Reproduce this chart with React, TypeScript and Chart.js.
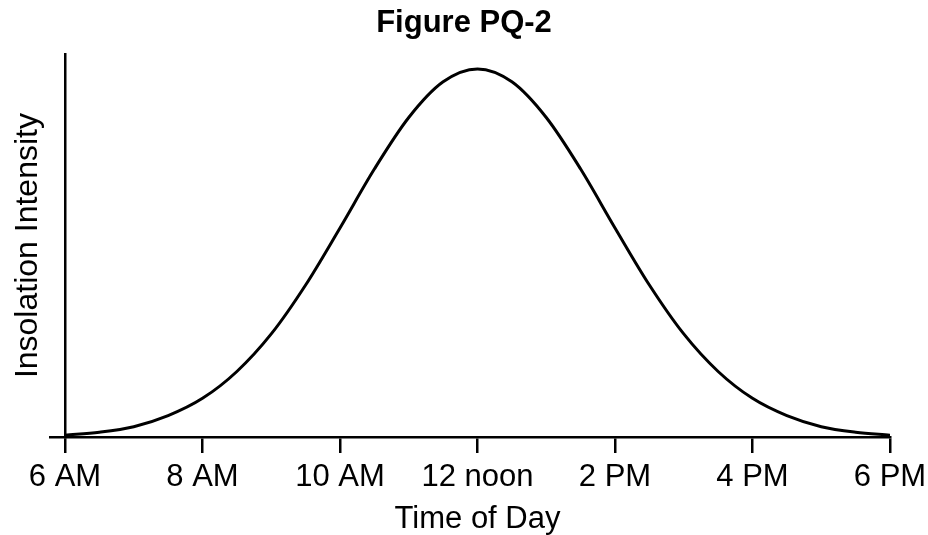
import React, { useEffect, useRef } from "react";
import { Chart, registerables } from "chart.js";

Chart.register(...registerables);

// Hours of the day (6 = 6 AM ... 18 = 6 PM), sampled every half hour
const hours = [6, 6.5, 7, 7.5, 8, 8.5, 9, 9.5, 10, 10.5, 11, 11.5, 12, 12.5, 13, 13.5, 14, 14.5, 15, 15.5, 16, 16.5, 17, 17.5, 18];
// Relative insolation intensity (peak = 100)
const intensity = [0.5, 1.3, 2.8, 5.8, 10.5, 17.8, 28, 41.3, 56.8, 72.8, 86.8, 96.5, 100, 96.5, 86.8, 72.8, 56.8, 41.3, 28, 17.8, 10.5, 5.8, 2.8, 1.3, 0.5];
const tickHours = [6, 8, 10, 12, 14, 16, 18];
const tickLabels = ["6 AM", "8 AM", "10 AM", "12 noon", "2 PM", "4 PM", "6 PM"];

const FONT = "'Liberation Sans', Arial, Helvetica, sans-serif";

export default function App() {
  const ref = useRef<HTMLCanvasElement | null>(null);

  useEffect(() => {
    if (!ref.current) return;
    const chart = new Chart(ref.current, {
      type: "line",
      data: {
        datasets: [
          {
            data: hours.map((h, i) => ({ x: h, y: intensity[i] })),
            borderColor: "#000",
            borderWidth: 3,
            pointRadius: 0,
            cubicInterpolationMode: "monotone",
            fill: false,
          },
        ],
      },
      options: {
        animation: false,
        responsive: false,
        maintainAspectRatio: false,
        layout: { padding: { left: 0, right: 0, top: 0, bottom: 0 } },
        plugins: {
          legend: { display: false },
          tooltip: { enabled: false },
          title: {
            display: true,
            text: "Figure PQ-2",
            color: "#000",
            font: { family: FONT, size: 31, weight: "bold", lineHeight: 1.2 },
            padding: { top: 5, bottom: 12 },
          },
        },
        scales: {
          x: {
            type: "linear",
            min: 6,
            max: 18,
            afterBuildTicks: (scale: any) => {
              scale.ticks = tickHours.map((v) => ({ value: v }));
            },
            afterFit: (scale: any) => {
              scale.paddingRight = 38;
            },
            ticks: {
              color: "#000",
              font: { family: FONT, size: 31, lineHeight: 1.0 },
              padding: 9,
              maxRotation: 0,
              autoSkip: false,
              callback: (v: any) => {
                const i = tickHours.indexOf(Number(v));
                return i >= 0 ? tickLabels[i] : "";
              },
            },
            grid: {
              drawOnChartArea: false,
              drawTicks: true,
              tickLength: 16,
              color: "#000",
              lineWidth: 2.5,
            },
            border: { display: true, color: "#000", width: 2.5 },
            title: {
              display: true,
              text: "Time of Day",
              color: "#000",
              font: { family: FONT, size: 31, lineHeight: 1.0 },
              padding: { top: 2, bottom: 0 },
            },
          },
          y: {
            type: "linear",
            min: 0,
            max: 104,
            afterBuildTicks: (scale: any) => {
              scale.ticks = [{ value: 0 }];
            },
            ticks: { display: false },
            grid: {
              drawOnChartArea: false,
              drawTicks: true,
              tickLength: 16,
              color: "#000",
              lineWidth: 2.5,
            },
            border: { display: true, color: "#000", width: 2.5 },
            title: {
              display: true,
              text: "Insolation Intensity",
              color: "#000",
              font: { family: FONT, size: 32, lineHeight: 1.0 },
              padding: { top: 12, bottom: 5 },
            },
          },
        },
      },
    });
    return () => chart.destroy();
  }, []);

  return (
    <div style={{ position: "absolute", left: 0, top: 0, width: 928, height: 535, background: "#fff" }}>
      <canvas ref={ref} width={928} height={535} style={{ width: 928, height: 535 }} />
    </div>
  );
}
